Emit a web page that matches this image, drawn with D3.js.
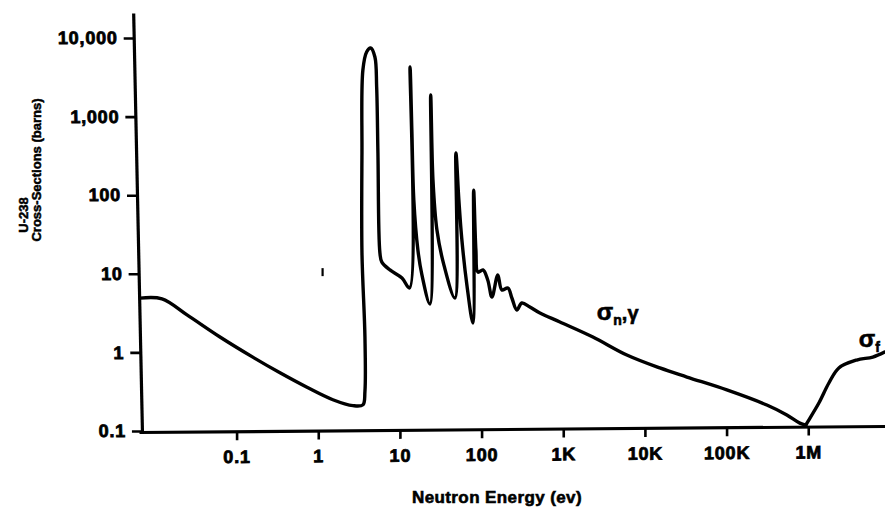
<!DOCTYPE html>
<html><head><meta charset="utf-8">
<script src="https://cdn.jsdelivr.net/npm/d3@7"></script>
<style>body{margin:0;background:#fff}svg{display:block}</style>
</head><body>
<svg id="c" width="885" height="514"></svg>
<script>
// ---- data ----
const xTickValues = [0.1, 1, 10, 100, 1e3, 1e4, 1e5, 1e6];
const xTickLabels = ["0.1", "1", "10", "100", "1K", "10K", "100K", "1M"];
const yTickValues = [0.1, 1, 10, 100, 1000, 10000];
const yTickLabels = ["0.1", "1", "10", "100", "1,000", "10,000"];

// capture cross-section sigma(n,gamma), energy in eV, sigma in barns
const captureEnergy = [0.0066, 0.0122, 0.0247, 0.0626, 0.158, 0.34, 0.728, 1.51, 2.66, 3.52,
  3.73, 3.73, 3.43, 3.43, 3.52, 3.91, 4.38, 4.94, 5.19, 5.38,
  5.69, 6.01, 7.55, 10.6, 13.1, 13.3, 14.0, 14.8, 16.6, 18.6,
  23.3, 23.8, 25.4, 28.4, 34.6, 47.1, 48.5, 52.7, 57.4, 66.1,
  78.3, 80.0, 85.2, 90.2, 104, 119, 134, 158, 177, 210,
  235, 270, 311, 390, 518, 910, 2307, 6010, 15240, 32660,
  100700, 311000, 547000, 789000, 934000];
const captureSigma = [4.9, 4.8, 3.0, 1.57, 0.87, 0.55, 0.36, 0.25, 0.21, 0.215,
  0.32, 1.57, 18.4, 344, 3920, 6640, 7460, 5730, 2380, 344,
  18.4, 14.1, 11.2, 8.85, 6.6, 4280, 676, 86.9, 20.1, 9.66,
  4.13, 1885, 156, 36, 12.9, 4.92, 344, 86.9, 26.9, 7.19,
  2.37, 116, 20.1, 10.5, 11.2, 8.34, 5.07, 9.66, 6.22, 6.6,
  4.92, 3.46, 4.25, 3.78, 3.17, 2.44, 1.57, 0.927, 0.634, 0.486,
  0.333, 0.214, 0.16, 0.126, 0.119];

// fission cross-section sigma(f)
const fissionEnergy = [934000, 964000, 1.35e6, 1.79e6, 2.37e6, 3.92e6, 6.17e6, 8.6e6];
const fissionSigma = [0.119, 0.126, 0.227, 0.408, 0.634, 0.8, 0.873, 1.01];

// small stray mark near 1 eV
const markEnergy = [1.13];
const markSigma = [10.5];

// ---- drawing ----
const svg = d3.select("#c");
const font = "'Liberation Sans', Arial, Helvetica, sans-serif";

const x = d3.scaleLog().domain([Math.pow(10, -2.195), Math.pow(10, 6.94)]).range([139, 885]);
const y = d3.scaleLog().domain([0.1, Math.pow(10, 4.318)]).range([431, 13]);

const line = d3.line()
  .x(d => x(d[0])).y(d => y(d[1]))
  .curve(d3.curveCatmullRom.alpha(0.5));

const capture = captureEnergy.map((e, i) => [e, captureSigma[i]]);
const fission = fissionEnergy.map((e, i) => [e, fissionSigma[i]]);

svg.append("path").datum(capture).attr("d", line)
  .attr("fill", "none").attr("stroke", "#000").attr("stroke-width", 3.4)
  .attr("stroke-linejoin", "round").attr("stroke-linecap", "round");
svg.append("path").datum(fission).attr("d", line)
  .attr("fill", "none").attr("stroke", "#000").attr("stroke-width", 3.4)
  .attr("stroke-linejoin", "round").attr("stroke-linecap", "round");

svg.selectAll("line.mark").data(markEnergy).enter().append("line")
  .attr("class", "mark")
  .attr("x1", (d) => x(d)).attr("x2", (d) => x(d))
  .attr("y1", (d, i) => y(markSigma[i]) - 4).attr("y2", (d, i) => y(markSigma[i]) + 4)
  .attr("stroke", "#000").attr("stroke-width", 2.2);

// axes (slightly tilted, like the scanned original)
const xAxis = d3.axisBottom(x).tickValues(xTickValues)
  .tickFormat((d, i) => xTickLabels[i]).tickSize(9).tickSizeOuter(0).tickPadding(10);
const yAxis = d3.axisLeft(y).tickValues(yTickValues)
  .tickFormat((d, i) => yTickLabels[i]).tickSize(10).tickSizeOuter(0).tickPadding(6);

const gx = svg.append("g").attr("transform", "translate(0,433.1) skewY(-0.46)").call(xAxis);
const gy = svg.append("g").attr("transform", "translate(132.9,0) skewX(1.2)").call(yAxis);

[gx, gy].forEach(g => {
  g.select(".domain").attr("stroke", "#000").attr("stroke-width", 3.2);
  g.selectAll(".tick line").attr("stroke", "#000").attr("stroke-width", 2.6);
  g.selectAll(".tick text").attr("font-family", font).attr("font-weight", "bold")
    .attr("font-size", 18).attr("letter-spacing", 0.8)
    .attr("fill", "#000").attr("stroke", "#000").attr("stroke-width", 0.8);
});

// axis titles
svg.append("text").attr("x", 497).attr("y", 503).attr("text-anchor", "middle")
  .attr("font-family", font).attr("font-weight", "bold").attr("font-size", 17)
  .attr("letter-spacing", 0.4)
  .attr("stroke", "#000").attr("stroke-width", 0.6)
  .text("Neutron Energy (ev)");

svg.append("text").attr("transform", "translate(28,215) rotate(-90)")
  .attr("text-anchor", "middle")
  .attr("font-family", font).attr("font-weight", "bold").attr("font-size", 13)
  .attr("stroke", "#000").attr("stroke-width", 0.5)
  .text("U-238");
svg.append("text").attr("transform", "translate(41,170) rotate(-90)")
  .attr("text-anchor", "middle")
  .attr("font-family", font).attr("font-weight", "bold").attr("font-size", 13)
  .attr("stroke", "#000").attr("stroke-width", 0.5)
  .text("Cross-Sections (barns)");

// curve labels
const lab1 = svg.append("text").attr("x", x(2580)).attr("y", y(2.58))
  .attr("font-family", font).attr("font-weight", "bold").attr("font-size", 24).attr("fill", "#000")
  .attr("stroke", "#000").attr("stroke-width", 0.6);
lab1.append("tspan").text("σ");
lab1.append("tspan").attr("font-size", 14).attr("dy", 5).text("n");
lab1.append("tspan").attr("font-size", 20).attr("dy", -5).text(",γ");

const lab2 = svg.append("text").attr("x", x(4.15e6)).attr("y", y(1.17))
  .attr("font-family", font).attr("font-weight", "bold").attr("font-size", 24).attr("fill", "#000")
  .attr("stroke", "#000").attr("stroke-width", 0.6);
lab2.append("tspan").text("σ");
lab2.append("tspan").attr("font-size", 14).attr("dy", 5).text("f");
</script>
</body></html>
